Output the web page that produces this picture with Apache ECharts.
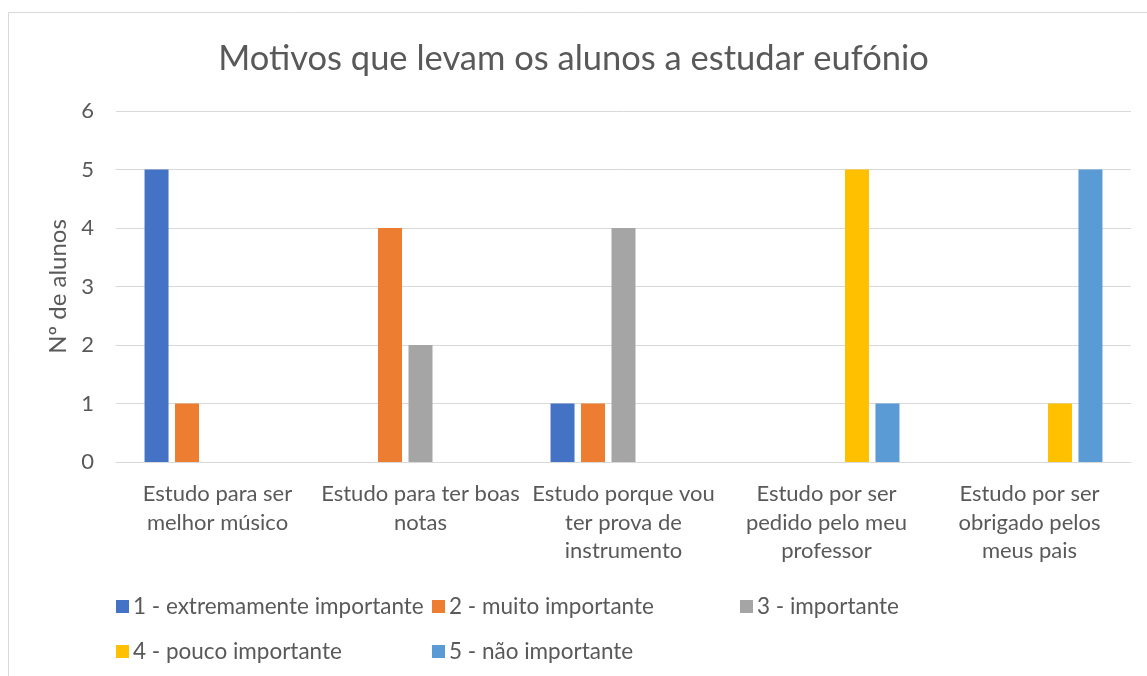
<!DOCTYPE html>
<html>
<head>
<meta charset="utf-8">
<script src="https://cdn.jsdelivr.net/npm/echarts@6/dist/echarts.min.js"></script>
<style>
  html, body { margin: 0; padding: 0; background: #fff; }
  #chart { width: 1147px; height: 676px; }
</style>
</head>
<body>
<div id="chart"></div>
<script>
// categorias (eixo x)
const categories = [
  'Estudo para ser\nmelhor músico',
  'Estudo para ter boas\nnotas',
  'Estudo porque vou\nter prova de\ninstrumento',
  'Estudo por ser\npedido pelo meu\nprofessor',
  'Estudo por ser\nobrigado pelos\nmeus pais'
]
const seriesNames = [
  '1 - extremamente importante',
  '2 - muito importante',
  '3 - importante',
  '4 - pouco importante',
  '5 - não importante'
]
const extremamente = [5, 0, 1, 0, 0]
const muito = [1, 4, 1, 0, 0]
const importante = [0, 2, 4, 0, 0]
const pouco = [0, 0, 0, 5, 1]
const nao = [0, 0, 0, 1, 5]
const yTicks = [0, 1, 2, 3, 4, 5, 6]

const colors = ['#4472C4', '#ED7D31', '#A5A5A5', '#FFC000', '#5B9BD5']
const values = [extremamente, muito, importante, pouco, nao]
const font = 'Lato, "Open Sans", sans-serif'
const textColor = '#595959'

// posição de cada entrada da legenda (duas linhas, três colunas)
const legendPos = [
  { left: 116, top: 595 },
  { left: 432, top: 595 },
  { left: 740, top: 595 },
  { left: 116, top: 640 },
  { left: 432, top: 640 }
]

const chart = echarts.init(document.getElementById('chart'))

const option = {
  animation: false,
  color: colors,
  textStyle: { fontFamily: font },
  title: {
    text: 'Motivos que levam os alunos a estudar eufónio',
    left: 'center',
    top: 36,
    textStyle: { fontFamily: font, fontSize: 34.5, fontWeight: 'normal', color: textColor }
  },
  graphic: [{
    type: 'rect',
    shape: { x: 8.5, y: 12.5, width: 1160, height: 700 },
    style: { fill: 'none', stroke: '#D9D9D9', lineWidth: 1 },
    silent: true
  }],
  legend: seriesNames.map((name, i) => ({
    data: [name],
    left: legendPos[i].left,
    top: legendPos[i].top,
    padding: 0,
    icon: 'rect',
    itemWidth: 13,
    itemHeight: 13,
    itemGap: 6,
    textStyle: { fontFamily: font, fontSize: 22.5, color: textColor, padding: [0, 0, 0, -1] }
  })),
  grid: {
    left: 116,
    right: 16,
    top: 111,
    bottom: 214,
    containLabel: false
  },
  xAxis: {
    type: 'category',
    data: categories,
    axisLine: { lineStyle: { color: '#D9D9D9' } },
    axisTick: { show: false },
    axisLabel: {
      interval: 0,
      margin: 18,
      lineHeight: 28.5,
      fontSize: 22,
      color: textColor,
      fontFamily: font
    }
  },
  yAxis: {
    type: 'value',
    min: yTicks[0],
    max: yTicks[yTicks.length - 1],
    interval: 1,
    name: 'Nº de alunos',
    nameLocation: 'middle',
    nameGap: 46,
    nameTextStyle: { fontFamily: font, fontSize: 24, color: textColor },
    axisLine: { show: false },
    axisTick: { show: false },
    axisLabel: { fontSize: 22, color: textColor, margin: 22, fontFamily: font },
    splitLine: { lineStyle: { color: '#D9D9D9', width: 1 } }
  },
  series: seriesNames.map((name, i) => ({
    name: name,
    type: 'bar',
    data: values[i],
    barWidth: 24,
    barGap: '27%'
  }))
}

chart.setOption(option)
</script>
</body>
</html>
